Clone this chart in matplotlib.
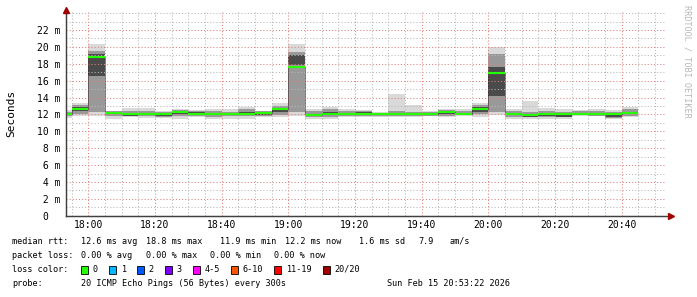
import matplotlib
matplotlib.use("Agg")
import matplotlib.pyplot as plt
from matplotlib.patches import Rectangle
from matplotlib.lines import Line2D
import matplotlib.ticker as mticker

W, H = 697, 297

# ---------------- data (values in ms) ----------------
interval_start = ["17:50", "17:55", "18:00", "18:05", "18:10", "18:15", "18:20",
                  "18:25", "18:30", "18:35", "18:40", "18:45", "18:50", "18:55",
                  "19:00", "19:05", "19:10", "19:15", "19:20", "19:25", "19:30",
                  "19:35", "19:40", "19:45", "19:50", "19:55", "20:00", "20:05",
                  "20:10", "20:15", "20:20", "20:25", "20:30", "20:35", "20:40"]
median_ms = [12.0, 12.7, 18.8, 12.2, 12.0, 12.1, 12.0,
             12.25, 12.1, 12.0, 12.0, 12.0, 12.2, 12.6,
             17.6, 11.9, 12.05, 12.05, 12.1, 12.05, 12.05,
             12.0, 12.0, 12.25, 12.1, 12.65, 16.9, 12.0,
             11.9, 12.0, 12.0, 12.1, 12.0, 12.0, 12.2]
ping_min_ms = [11.6, 11.8, 11.8, 11.5, 11.7, 11.6, 11.6,
               11.5, 11.65, 11.5, 11.5, 11.5, 11.7, 11.7,
               11.8, 11.5, 11.5, 11.7, 11.7, 11.7, 11.7,
               11.7, 11.8, 11.65, 11.8, 11.75, 11.9, 11.5,
               11.5, 11.5, 11.5, 11.8, 11.8, 11.45, 11.65]
mid_lo_ms = [11.8, 12.1, 12.3, 11.8, 11.8, 11.8, 11.75,
             11.8, 11.85, 11.75, 11.8, 11.8, 11.85, 11.95,
             12.3, 11.7, 11.75, 11.8, 11.8, 11.8, 11.8,
             11.8, 11.85, 11.85, 11.9, 12.0, 12.3, 11.75,
             11.65, 11.7, 11.65, 11.9, 11.85, 11.6, 11.85]
core_lo_ms = [11.9, 12.4, 16.6, 12.0, 11.85, 12.0, 11.85,
              12.1, 12.0, 11.9, 11.9, 11.9, 11.95, 12.3,
              17.8, 11.8, 11.9, 11.95, 11.95, 11.9, 11.95,
              11.9, 11.9, 12.0, 12.0, 12.3, 14.2, 11.9,
              11.7, 11.85, 11.7, 11.95, 11.9, 11.7, 12.0]
core_hi_ms = [12.1, 12.9, 19.1, 12.25, 12.1, 12.2, 12.15,
              12.35, 12.3, 12.1, 12.1, 12.3, 12.25, 12.8,
              19.0, 12.1, 12.3, 12.15, 12.3, 12.1, 12.15,
              12.1, 12.1, 12.4, 12.2, 12.9, 17.6, 12.1,
              12.05, 12.1, 12.1, 12.2, 12.15, 12.1, 12.3]
mid_hi_ms = [12.3, 13.1, 19.5, 12.35, 12.4, 12.4, 12.3,
             12.5, 12.4, 12.4, 12.3, 12.6, 12.35, 13.0,
             19.4, 12.4, 12.6, 12.35, 12.4, 12.2, 12.4,
             12.3, 12.3, 12.55, 12.4, 13.1, 19.2, 12.35,
             12.3, 12.4, 12.3, 12.35, 12.4, 12.3, 12.6]
ping_max_ms = [12.5, 13.3, 20.4, 12.4, 12.8, 12.75, 12.45,
               12.7, 12.5, 12.7, 12.6, 12.85, 12.45, 13.3,
               20.3, 12.7, 12.9, 12.6, 12.5, 12.3, 14.4,
               13.1, 12.45, 12.7, 12.65, 13.4, 20.0, 12.65,
               13.6, 12.8, 12.65, 12.5, 12.65, 12.5, 12.9]

x_tick_labels = ["18:00", "18:20", "18:40", "19:00", "19:20", "19:40",
                 "20:00", "20:20", "20:40"]
y_tick_values = [0, 2, 4, 6, 8, 10, 12, 14, 16, 18, 20, 22]

loss_labels = ["0", "1", "2", "3", "4-5", "6-10", "11-19", "20/20"]
loss_colors = ["#26ff00", "#00b8ff", "#0059ff", "#7e00ff",
               "#ff00ff", "#ff5500", "#ff0000", "#a10000"]

rtt_stats = ["12.6 ms avg", "18.8 ms max", "11.9 ms min", "12.2 ms now", "1.6 ms sd", "7.9", "am/s"]
loss_stats = ["0.00 % avg", "0.00 % max", "0.00 % min", "0.00 % now"]
probe_text = "20 ICMP Echo Pings (56 Bytes) every 300s"
stamp_text = "Sun Feb 15 20:53:22 2026"

STEP = 5  # minutes per interval


def to_min(s):
    h, m = s.split(":")
    return (int(h) - 18) * 60 + int(m)


x0 = [to_min(s) for s in interval_start]

# ---------------- figure ----------------
MONO = "DejaVu Sans Mono"
plt.rcParams["font.family"] = MONO
fig = plt.figure(figsize=(W / 100, H / 100), dpi=100)
fig.patch.set_facecolor("white")


def fx(x):
    return x / W


def fy(y):
    return 1 - y / H


ax_left, ax_right, ax_top, ax_bot = 66.2, 666.2, 12.3, 215.7
ax = fig.add_axes([fx(ax_left), fy(ax_bot), (ax_right - ax_left) / W, (ax_bot - ax_top) / H])
ax.set_facecolor("white")
ax.set_xlim(-6.633, 173.367)
ax.set_ylim(0, 24.1)


# smoke
def band(lo, hi, color, z):
    ax.bar(x0, [h - l for l, h in zip(lo, hi)], bottom=lo, width=STEP,
           align="edge", color=color, linewidth=0, zorder=z)


band(ping_min_ms, ping_max_ms, "#d9d9d9", 1)
band(mid_lo_ms, mid_hi_ms, "#999999", 1.1)
band(core_lo_ms, core_hi_ms, "#4a4a4a", 1.2)

# median: thin dark step + green segments
edges = x0 + [x0[-1] + STEP]
ax.step(edges, median_ms + [median_ms[-1]], where="post", color="#202020",
        lw=0.72, ls=(0, (1, 1)), zorder=3)
ax.hlines(median_ms, x0, [a + STEP for a in x0], color=loss_colors[0], lw=1.5, zorder=4)

# grid
ax.xaxis.set_major_locator(mticker.FixedLocator([to_min(s) for s in x_tick_labels]))
ax.xaxis.set_minor_locator(mticker.MultipleLocator(5))
ax.yaxis.set_major_locator(mticker.FixedLocator(y_tick_values))
ax.yaxis.set_minor_locator(mticker.MultipleLocator(1))
ax.set_axisbelow(False)
ax.grid(which="major", color="#e08080", lw=0.75, ls=(0, (1, 2)), zorder=2.5)
ax.grid(which="minor", color="#b8b8b8", lw=0.75, ls=(0, (1, 2)), zorder=2.5)

ax.set_xticklabels(x_tick_labels)
ax.set_yticklabels([("%d m" % v).rjust(4) if v else "0  " for v in y_tick_values])
ax.tick_params(which="both", length=0)
ax.tick_params(axis="x", pad=3.2, labelsize=7, colors="#000000")
ax.tick_params(axis="y", pad=4.3, labelsize=7, colors="#000000")

for s in ["top", "right"]:
    ax.spines[s].set_visible(False)
for s in ["left", "bottom"]:
    ax.spines[s].set_color("#404040")
    ax.spines[s].set_linewidth(0.9)
    ax.spines[s].set_zorder(5)

# axis extensions and arrows (figure pixel coords)
fig.add_artist(Line2D([fx(ax_left), fx(ax_left)], [fy(ax_bot), fy(9)], color="#404040", lw=0.9))
fig.add_artist(Line2D([fx(ax_left), fx(670)], [fy(ax_bot), fy(ax_bot)], color="#404040", lw=0.9))
fig.add_artist(Line2D([fx(ax_left)], [fy(9.5)], marker="^", ms=4, color="#a00000", lw=0))
fig.add_artist(Line2D([fx(670.5)], [fy(ax_bot)], marker=">", ms=4, color="#a00000", lw=0))

# axis titles
fig.text(fx(11), fy(113.5), "Seconds", rotation=90, ha="center", va="center", fontsize=8)
fig.text(fx(687), fy(5), "RRDTOOL / TOBI OETIKER", rotation=270, ha="center", va="top",
         fontsize=6.1, color="#b8b8b8")

# legend text
FS = 6.1
rows = [241, 255.7, 269.3, 283.7]
fig.text(fx(12.3), fy(rows[0]), "median rtt:", fontsize=FS, va="center")
for xx, t in zip([80.7, 145.7, 220, 285, 359.3, 418.3, 450], rtt_stats):
    fig.text(fx(xx), fy(rows[0]), t, fontsize=FS, va="center")
fig.text(fx(12.3), fy(rows[1]), "packet loss:", fontsize=FS, va="center")
for xx, t in zip([80.7, 145.7, 210, 274], loss_stats):
    fig.text(fx(xx), fy(rows[1]), t, fontsize=FS, va="center")
fig.text(fx(12.3), fy(rows[2]), "loss color:", fontsize=FS, va="center")
box_x = [81, 109.3, 136.7, 165, 192.7, 230.7, 274, 322.7]
for bx, lab, col in zip(box_x, loss_labels, loss_colors):
    fig.add_artist(Rectangle((fx(bx), fy(273.5)), 7 / W, 8 / H, facecolor=col,
                             edgecolor="#000000", lw=0.6))
    fig.text(fx(bx + 11.7), fy(rows[2]), lab, fontsize=FS, va="center")
fig.text(fx(12.3), fy(rows[3]), "probe:", fontsize=FS, va="center")
fig.text(fx(80.7), fy(rows[3]), probe_text, fontsize=FS, va="center")
fig.text(fx(510), fy(rows[3]), stamp_text, fontsize=FS, va="center", ha="right")

fig.savefig("out.png", dpi=100, facecolor="white")
